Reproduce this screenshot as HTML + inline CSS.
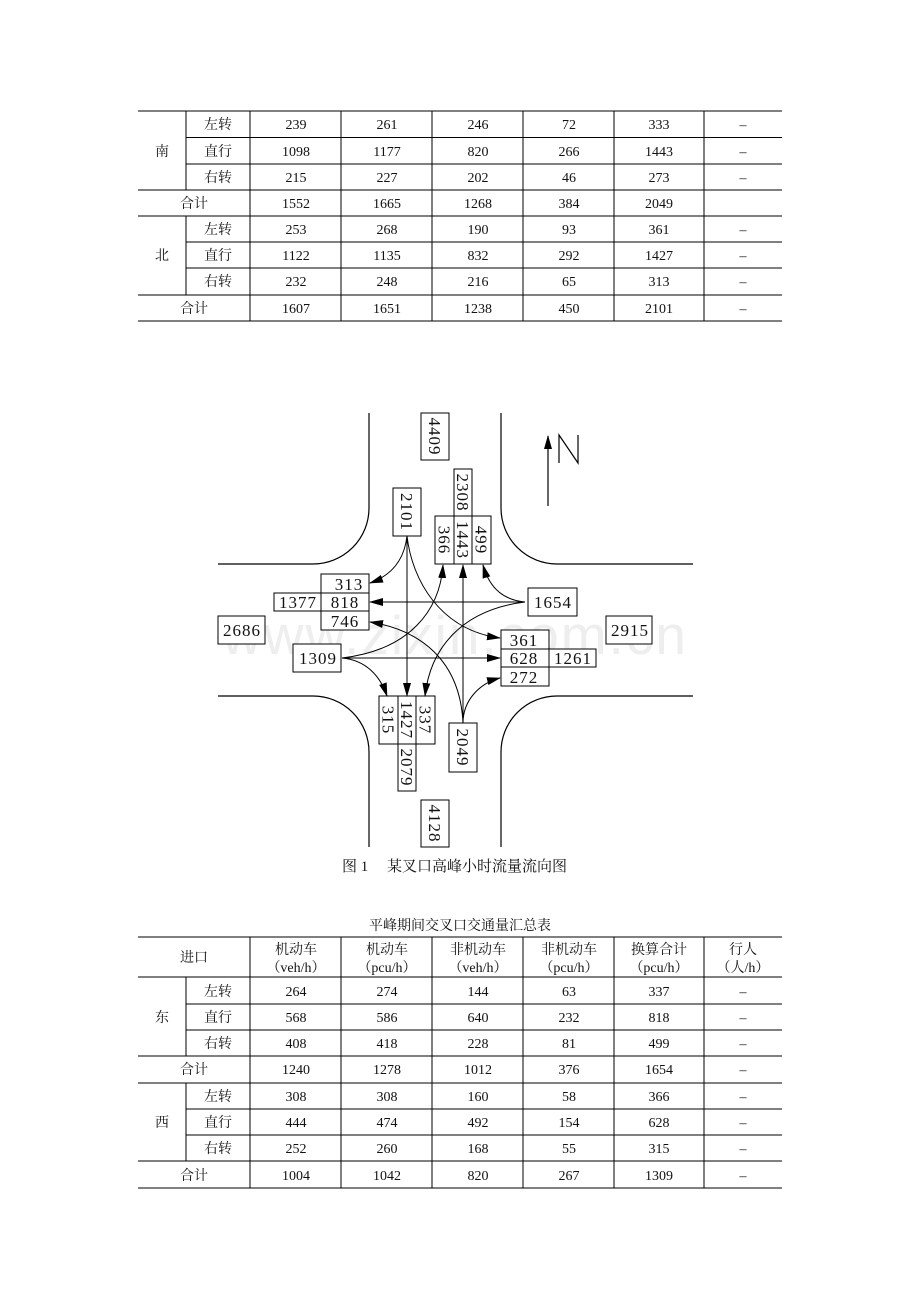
<!DOCTYPE html>
<html><head><meta charset="utf-8"><style>
html,body{margin:0;padding:0;background:#fff;}
svg{display:block;}
text{font-family:"Liberation Serif","Noto Serif CJK SC",serif;fill:#111;}
.t{font-size:14px;text-anchor:middle;}
.d{font-size:17px;text-anchor:middle;letter-spacing:1px;}
</style></head><body>
<svg width="920" height="1302" viewBox="0 0 920 1302" xmlns="http://www.w3.org/2000/svg">
<defs><marker id="a" markerWidth="14" markerHeight="8" refX="13" refY="4" orient="auto" markerUnits="userSpaceOnUse"><path d="M0,0 L14,4 L0,8 Z" fill="#000"/></marker></defs>
<text x="455" y="654" style="font-family:'Liberation Sans',sans-serif;font-size:55px;fill:#eeeeee;text-anchor:middle;letter-spacing:2px">www.zixin.com.cn</text>

<g stroke="#000" stroke-width="1">
<line x1="138" y1="111" x2="782" y2="111"/>
<line x1="186" y1="137.5" x2="782" y2="137.5"/>
<line x1="186" y1="164" x2="782" y2="164"/>
<line x1="138" y1="190" x2="782" y2="190"/>
<line x1="138" y1="216" x2="782" y2="216"/>
<line x1="186" y1="242" x2="782" y2="242"/>
<line x1="186" y1="268" x2="782" y2="268"/>
<line x1="138" y1="295" x2="782" y2="295"/>
<line x1="138" y1="321" x2="782" y2="321"/>
<line x1="186" y1="111" x2="186" y2="190"/>
<line x1="186" y1="216" x2="186" y2="295"/>
<line x1="250" y1="111" x2="250" y2="321"/>
<line x1="341" y1="111" x2="341" y2="321"/>
<line x1="432" y1="111" x2="432" y2="321"/>
<line x1="523" y1="111" x2="523" y2="321"/>
<line x1="614" y1="111" x2="614" y2="321"/>
<line x1="704" y1="111" x2="704" y2="321"/>
</g>
<g>
<text class="t" x="162" y="156">南</text>
<text class="t" x="162" y="260">北</text>
<text class="t" x="218" y="129">左转</text><text class="t" x="218" y="156">直行</text><text class="t" x="218" y="182">右转</text>
<text class="t" x="194" y="208">合计</text>
<text class="t" x="218" y="234">左转</text><text class="t" x="218" y="260">直行</text><text class="t" x="218" y="286">右转</text>
<text class="t" x="194" y="313">合计</text>
</g>
<g>
<text class="t" x="296" y="129">239</text><text class="t" x="387" y="129">261</text><text class="t" x="478" y="129">246</text><text class="t" x="569" y="129">72</text><text class="t" x="659" y="129">333</text><text class="t" x="743" y="129">–</text>
<text class="t" x="296" y="156">1098</text><text class="t" x="387" y="156">1177</text><text class="t" x="478" y="156">820</text><text class="t" x="569" y="156">266</text><text class="t" x="659" y="156">1443</text><text class="t" x="743" y="156">–</text>
<text class="t" x="296" y="182">215</text><text class="t" x="387" y="182">227</text><text class="t" x="478" y="182">202</text><text class="t" x="569" y="182">46</text><text class="t" x="659" y="182">273</text><text class="t" x="743" y="182">–</text>
<text class="t" x="296" y="208">1552</text><text class="t" x="387" y="208">1665</text><text class="t" x="478" y="208">1268</text><text class="t" x="569" y="208">384</text><text class="t" x="659" y="208">2049</text>
<text class="t" x="296" y="234">253</text><text class="t" x="387" y="234">268</text><text class="t" x="478" y="234">190</text><text class="t" x="569" y="234">93</text><text class="t" x="659" y="234">361</text><text class="t" x="743" y="234">–</text>
<text class="t" x="296" y="260">1122</text><text class="t" x="387" y="260">1135</text><text class="t" x="478" y="260">832</text><text class="t" x="569" y="260">292</text><text class="t" x="659" y="260">1427</text><text class="t" x="743" y="260">–</text>
<text class="t" x="296" y="286">232</text><text class="t" x="387" y="286">248</text><text class="t" x="478" y="286">216</text><text class="t" x="569" y="286">65</text><text class="t" x="659" y="286">313</text><text class="t" x="743" y="286">–</text>
<text class="t" x="296" y="313">1607</text><text class="t" x="387" y="313">1651</text><text class="t" x="478" y="313">1238</text><text class="t" x="569" y="313">450</text><text class="t" x="659" y="313">2101</text><text class="t" x="743" y="313">–</text>
</g>

<g stroke="#000" stroke-width="1.2" fill="none">
<path d="M369,413 V508 A56,56 0 0 1 313,564 H218"/>
<path d="M501,413 V508 A56,56 0 0 0 557,564 H693"/>
<path d="M218,696 H313 A56,56 0 0 1 369,752 V847"/>
<path d="M693,696 H557 A56,56 0 0 0 501,752 V847"/>
</g>
<line x1="548" y1="506" x2="548" y2="436" stroke="#000" stroke-width="1.2" marker-end="url(#a)"/>
<path d="M559,463 V435 L578,463 V435" stroke="#000" stroke-width="1.2" fill="none"/>

<g stroke="#000" stroke-width="1" fill="#fff">
<rect x="421" y="413" width="28" height="47"/>
<rect x="454" y="469" width="18" height="47"/>
<rect x="435" y="516" width="56" height="48"/>
<line x1="454" y1="516" x2="454" y2="564"/><line x1="472" y1="516" x2="472" y2="564"/>
<rect x="393" y="488" width="28" height="48"/>
<rect x="321" y="574" width="48" height="56"/>
<line x1="321" y1="593" x2="369" y2="593"/><line x1="321" y1="611" x2="369" y2="611"/>
<rect x="274" y="593" width="47" height="18"/>
<rect x="218" y="616" width="47" height="28"/>
<rect x="528" y="588" width="49" height="28"/>
<rect x="606" y="616" width="46" height="28"/>
<rect x="293" y="644" width="48" height="28"/>
<rect x="501" y="630" width="48" height="56"/>
<line x1="501" y1="649" x2="549" y2="649"/><line x1="501" y1="667" x2="549" y2="667"/>
<rect x="549" y="649" width="47" height="18"/>
<rect x="379" y="696" width="56" height="48"/>
<line x1="398" y1="696" x2="398" y2="744"/><line x1="416" y1="696" x2="416" y2="744"/>
<rect x="398" y="744" width="18" height="47"/>
<rect x="449" y="723" width="28" height="49"/>
<rect x="421" y="800" width="28" height="47"/>
</g>
<g stroke="#000" stroke-width="1" fill="none">
<line x1="407" y1="536" x2="407" y2="696" marker-end="url(#a)"/>
<path d="M407,536 C404,562 390,576 370,583" marker-end="url(#a)"/>
<path d="M407,536 C412,580 440,630 500,638" marker-end="url(#a)"/>
<line x1="525" y1="602" x2="370" y2="602" marker-end="url(#a)"/>
<path d="M525,602 C505,600 490,590 483,565" marker-end="url(#a)"/>
<path d="M525,602 C460,610 430,650 425,696" marker-end="url(#a)"/>
<line x1="342" y1="658" x2="500" y2="658" marker-end="url(#a)"/>
<path d="M342,658 C410,650 440,610 443,565" marker-end="url(#a)"/>
<path d="M342,658 C365,660 380,675 387,696" marker-end="url(#a)"/>
<line x1="463" y1="723" x2="463" y2="565" marker-end="url(#a)"/>
<path d="M463,723 C463,700 480,683 500,678" marker-end="url(#a)"/>
<path d="M463,723 C460,660 420,630 370,622" marker-end="url(#a)"/>
</g>
<g>
<text class="d" transform="translate(435,436.5) rotate(90)" y="6">4409</text>
<text class="d" transform="translate(463,492.5) rotate(90)" y="6">2308</text>
<text class="d" transform="translate(444.5,540) rotate(90)" y="6">366</text>
<text class="d" transform="translate(463,540) rotate(90)" y="6">1443</text>
<text class="d" transform="translate(481.5,540) rotate(90)" y="6">499</text>
<text class="d" transform="translate(407,512) rotate(90)" y="6">2101</text>
<text class="d" x="349" y="590">313</text>
<text class="d" x="345" y="608">818</text>
<text class="d" x="345" y="627">746</text>
<text class="d" x="298" y="608">1377</text>
<text class="d" x="242" y="636">2686</text>
<text class="d" x="553" y="608">1654</text>
<text class="d" x="630" y="636">2915</text>
<text class="d" x="318" y="664">1309</text>
<text class="d" x="524" y="646">361</text>
<text class="d" x="524" y="664">628</text>
<text class="d" x="524" y="683">272</text>
<text class="d" x="573" y="664">1261</text>
<text class="d" transform="translate(388.5,720) rotate(90)" y="6">315</text>
<text class="d" transform="translate(407,720) rotate(90)" y="6">1427</text>
<text class="d" transform="translate(425.5,720) rotate(90)" y="6">337</text>
<text class="d" transform="translate(407,767.5) rotate(90)" y="6">2079</text>
<text class="d" transform="translate(463,747.5) rotate(90)" y="6">2049</text>
<text class="d" transform="translate(435,823.5) rotate(90)" y="6">4128</text>
</g>
<text x="342" y="871" style="font-size:15px">图 1　 某叉口高峰小时流量流向图</text>

<text class="t" x="460" y="930">平峰期间交叉口交通量汇总表</text>
<g stroke="#000" stroke-width="1">
<line x1="138" y1="937" x2="782" y2="937"/>
<line x1="138" y1="977" x2="782" y2="977"/>
<line x1="186" y1="1004" x2="782" y2="1004"/>
<line x1="186" y1="1030" x2="782" y2="1030"/>
<line x1="138" y1="1056" x2="782" y2="1056"/>
<line x1="138" y1="1083" x2="782" y2="1083"/>
<line x1="186" y1="1109" x2="782" y2="1109"/>
<line x1="186" y1="1135" x2="782" y2="1135"/>
<line x1="138" y1="1161" x2="782" y2="1161"/>
<line x1="138" y1="1188" x2="782" y2="1188"/>
<line x1="186" y1="977" x2="186" y2="1056"/>
<line x1="186" y1="1083" x2="186" y2="1161"/>
<line x1="250" y1="937" x2="250" y2="1188"/>
<line x1="341" y1="937" x2="341" y2="1188"/>
<line x1="432" y1="937" x2="432" y2="1188"/>
<line x1="523" y1="937" x2="523" y2="1188"/>
<line x1="614" y1="937" x2="614" y2="1188"/>
<line x1="704" y1="937" x2="704" y2="1188"/>
</g>
<text class="t" x="194" y="962">进口</text>
<text class="t" x="296" y="954">机动车</text><text class="t" x="296" y="972">（veh/h）</text>
<text class="t" x="387" y="954">机动车</text><text class="t" x="387" y="972">（pcu/h）</text>
<text class="t" x="478" y="954">非机动车</text><text class="t" x="478" y="972">（veh/h）</text>
<text class="t" x="569" y="954">非机动车</text><text class="t" x="569" y="972">（pcu/h）</text>
<text class="t" x="659" y="954">换算合计</text><text class="t" x="659" y="972">（pcu/h）</text>
<text class="t" x="743" y="954">行人</text><text class="t" x="743" y="972">（人/h）</text>
<text class="t" x="162" y="1022">东</text>
<text class="t" x="162" y="1127">西</text>
<text class="t" x="218" y="996">左转</text><text class="t" x="218" y="1022">直行</text><text class="t" x="218" y="1048">右转</text>
<text class="t" x="194" y="1074">合计</text>
<text class="t" x="218" y="1101">左转</text><text class="t" x="218" y="1127">直行</text><text class="t" x="218" y="1153">右转</text>
<text class="t" x="194" y="1180">合计</text>
<g>
<text class="t" x="296" y="996">264</text><text class="t" x="387" y="996">274</text><text class="t" x="478" y="996">144</text><text class="t" x="569" y="996">63</text><text class="t" x="659" y="996">337</text><text class="t" x="743" y="996">–</text>
<text class="t" x="296" y="1022">568</text><text class="t" x="387" y="1022">586</text><text class="t" x="478" y="1022">640</text><text class="t" x="569" y="1022">232</text><text class="t" x="659" y="1022">818</text><text class="t" x="743" y="1022">–</text>
<text class="t" x="296" y="1048">408</text><text class="t" x="387" y="1048">418</text><text class="t" x="478" y="1048">228</text><text class="t" x="569" y="1048">81</text><text class="t" x="659" y="1048">499</text><text class="t" x="743" y="1048">–</text>
<text class="t" x="296" y="1074">1240</text><text class="t" x="387" y="1074">1278</text><text class="t" x="478" y="1074">1012</text><text class="t" x="569" y="1074">376</text><text class="t" x="659" y="1074">1654</text><text class="t" x="743" y="1074">–</text>
<text class="t" x="296" y="1101">308</text><text class="t" x="387" y="1101">308</text><text class="t" x="478" y="1101">160</text><text class="t" x="569" y="1101">58</text><text class="t" x="659" y="1101">366</text><text class="t" x="743" y="1101">–</text>
<text class="t" x="296" y="1127">444</text><text class="t" x="387" y="1127">474</text><text class="t" x="478" y="1127">492</text><text class="t" x="569" y="1127">154</text><text class="t" x="659" y="1127">628</text><text class="t" x="743" y="1127">–</text>
<text class="t" x="296" y="1153">252</text><text class="t" x="387" y="1153">260</text><text class="t" x="478" y="1153">168</text><text class="t" x="569" y="1153">55</text><text class="t" x="659" y="1153">315</text><text class="t" x="743" y="1153">–</text>
<text class="t" x="296" y="1180">1004</text><text class="t" x="387" y="1180">1042</text><text class="t" x="478" y="1180">820</text><text class="t" x="569" y="1180">267</text><text class="t" x="659" y="1180">1309</text><text class="t" x="743" y="1180">–</text>
</g>
</svg>
</body></html>
